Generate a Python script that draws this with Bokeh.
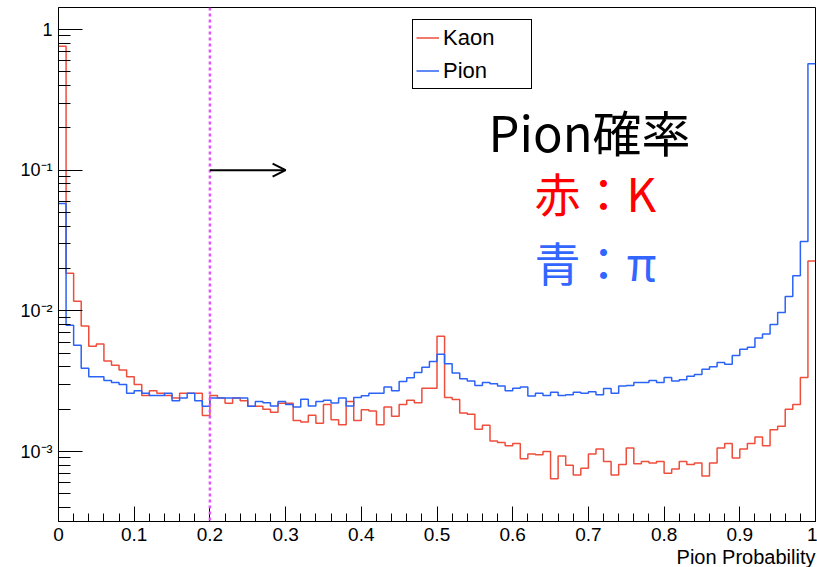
from bokeh.plotting import figure
from bokeh.models import (Range1d, FixedTicker, CustomJSTickFormatter, Span, Arrow,
                          OpenHead, Label, Legend, LegendItem, Title)
from bokeh.embed import file_html
from bokeh.resources import INLINE

# ---------------- data (100 bins from 0 to 1, normalised) ----------------
x_lo, x_hi, n_bins = 0.0, 1.0, 100

kaon = [0.76, 0.0185, 0.0117, 0.0078, 0.0056, 0.0058, 0.0044, 0.0041, 0.0038, 0.0034,
        0.0030, 0.0025, 0.0027, 0.0026, 0.0025, 0.0024, 0.0026, 0.0026, 0.0026, 0.0018,
        0.0025, 0.0024, 0.0022, 0.0024, 0.0023, 0.0021, 0.0021, 0.0020, 0.0019, 0.0022,
        0.0022, 0.00166, 0.00162, 0.00181, 0.00159, 0.00216, 0.00168, 0.00155, 0.00227, 0.00166,
        0.00198, 0.00194, 0.00155, 0.00207, 0.00178, 0.00216, 0.00231, 0.00222, 0.00282, 0.00282,
        0.00661, 0.00242, 0.00234, 0.00188, 0.00184, 0.00144, 0.00154, 0.00119, 0.00116, 0.00110,
        0.00114, 0.00089, 0.00096, 0.00095, 0.00100, 0.00064, 0.00093, 0.00080, 0.00068, 0.00076,
        0.00096, 0.00104, 0.00085, 0.00068, 0.00081, 0.00106, 0.00082, 0.00085, 0.00083, 0.00085,
        0.00070, 0.00075, 0.00085, 0.00081, 0.00083, 0.00067, 0.00083, 0.00106, 0.00114, 0.00090,
        0.00104, 0.00114, 0.00127, 0.00110, 0.00143, 0.00151, 0.00200, 0.00216, 0.00336, 0.0226]

pion = [0.058, 0.0079, 0.0057, 0.0039, 0.0034, 0.0034, 0.0032, 0.0031, 0.0030, 0.0026,
        0.0027, 0.0026, 0.0025, 0.0025, 0.0026, 0.0023, 0.0024, 0.0026, 0.0023, 0.0021,
        0.0024, 0.0024, 0.0024, 0.0024, 0.0024, 0.0021, 0.00227, 0.00222, 0.00211, 0.00227,
        0.00216, 0.00207, 0.00235, 0.00211, 0.00227, 0.00231, 0.00221, 0.00240, 0.00211, 0.00242,
        0.00249, 0.00260, 0.00260, 0.00287, 0.00270, 0.00315, 0.00334, 0.00365, 0.00398, 0.00437,
        0.00492, 0.00421, 0.00361, 0.00329, 0.00317, 0.00295, 0.00310, 0.00303, 0.00292, 0.00270,
        0.00282, 0.00287, 0.00248, 0.00260, 0.00250, 0.00264, 0.00250, 0.00253, 0.00264, 0.00260,
        0.00266, 0.00253, 0.00281, 0.00260, 0.00292, 0.00295, 0.00310, 0.00310, 0.00320, 0.00309,
        0.00336, 0.00317, 0.00324, 0.00343, 0.00353, 0.00384, 0.00401, 0.00430, 0.00418, 0.00482,
        0.00534, 0.00552, 0.00640, 0.00684, 0.00800, 0.00975, 0.01265, 0.01776, 0.0311, 0.57]

series_names = ["Kaon", "Pion"]

x_ticks = [0.0, 0.1, 0.2, 0.3, 0.4, 0.5, 0.6, 0.7, 0.8, 0.9, 1.0]
x_tick_labels = ["0", "0.1", "0.2", "0.3", "0.4", "0.5", "0.6", "0.7", "0.8", "0.9", "1"]
y_ticks = [1e-3, 1e-2, 1e-1, 1.0]
y_tick_labels = ["10\u207b\u00b3", "10\u207b\u00b2", "10\u207b\u00b9", "1"]
x_title = "Pion Probability"

cut_value = 0.2          # vertical cut line
arrow_to = 0.3           # arrow end
arrow_level = 0.1        # arrow height

y_min, y_max = 3.18e-4, 1.434

# ---------------- figure ----------------
edges = [x_lo + (x_hi - x_lo) * i / n_bins for i in range(n_bins + 1)]
kaon_step = kaon + [kaon[-1]]
pion_step = pion + [pion[-1]]

p = figure(width=817, height=567, title=None,
           x_range=Range1d(x_lo, x_hi), y_range=Range1d(y_min, y_max),
           y_axis_type="log", output_backend="svg", toolbar_location=None,
           min_border_left=58, min_border_right=2, min_border_top=7, min_border_bottom=46,
           background_fill_color="white", border_fill_color="white",
           outline_line_color="black", outline_line_width=1)

p.xgrid.visible = False
p.ygrid.visible = False

RED = "#ee4e3c"
BLUE = "#2b63f6"

r_k = p.step(edges, kaon_step, mode="after", line_color=RED, line_width=1.5)
r_p = p.step(edges, pion_step, mode="after", line_color=BLUE, line_width=1.5)

# x axis
xminor = [round(i * 0.02, 2) for i in range(51)]
p.xaxis.ticker = FixedTicker(ticks=x_ticks, minor_ticks=xminor)
p.xaxis.formatter = CustomJSTickFormatter(args=dict(vals=x_ticks, labels=x_tick_labels), code="""
    for (let i = 0; i < vals.length; i++) { if (Math.abs(vals[i] - tick) < 1e-9) return labels[i]; }
    return "";
""")
p.xaxis.major_tick_in = 15
p.xaxis.major_tick_out = 0
p.xaxis.minor_tick_in = 8
p.xaxis.minor_tick_out = 0
p.xaxis.major_label_standoff = 6
p.xaxis.major_label_text_font = "Liberation Sans"
p.xaxis.major_label_text_font_size = "19px"
p.xaxis.major_label_text_color = "black"

# x axis title, right-aligned under the axis
p.add_layout(Title(text=x_title, align="right", text_font="Liberation Sans",
                   text_font_size="20px", text_font_style="normal", text_color="black",
                   standoff=0, offset=0), "below")

# y axis
yminor = [m * 10.0 ** e for e in range(-4, 1) for m in range(2, 10)]
p.yaxis.ticker = FixedTicker(ticks=y_ticks, minor_ticks=yminor)
p.yaxis.formatter = CustomJSTickFormatter(args=dict(vals=y_ticks, labels=y_tick_labels), code="""
    const e = Math.round(Math.log10(tick));
    for (let i = 0; i < vals.length; i++) { if (Math.round(Math.log10(vals[i])) == e) return labels[i]; }
    return "";
""")
p.yaxis.major_tick_in = 24
p.yaxis.major_tick_out = 0
p.yaxis.minor_tick_in = 12
p.yaxis.minor_tick_out = 0
p.yaxis.major_label_standoff = 6
p.yaxis.major_label_text_font = "Liberation Sans"
p.yaxis.major_label_text_font_size = "18px"
p.yaxis.major_label_text_color = "black"

for ax in (p.xaxis, p.yaxis):
    ax.axis_line_color = "black"
    ax.major_tick_line_color = "black"
    ax.minor_tick_line_color = "black"

# cut line + arrow
p.add_layout(Span(location=cut_value, dimension="height", line_color="#e055f7",
                  line_dash="3 3", line_width=2.5))
p.add_layout(Arrow(x_start=cut_value, y_start=arrow_level, x_end=arrow_to, y_end=arrow_level,
                   line_color="black", line_width=2,
                   end=OpenHead(size=13, line_width=2, line_color="black")))

# legend
legend = Legend(items=[LegendItem(label=series_names[0], renderers=[r_k]),
                       LegendItem(label=series_names[1], renderers=[r_p])],
                location=(354, 432), orientation="vertical",
                border_line_color="black", border_line_width=1, border_line_alpha=1,
                background_fill_color="white", background_fill_alpha=1,
                padding=3, spacing=4, margin=0,
                glyph_width=23, glyph_height=29, label_height=29, label_width=85,
                label_standoff=4, label_text_font="Liberation Sans",
                label_text_font_size="22px", label_text_color="black")
p.add_layout(legend)

# annotations in Japanese
p.add_layout(Label(x=430, y=391, x_units="screen", y_units="screen", text="Pion確率",
                   text_font="Noto Sans CJK JP", text_font_size="49px",
                   text_baseline="middle", text_color="black"))
p.add_layout(Label(x=476, y=330, x_units="screen", y_units="screen", text="赤：K",
                   text_font="Noto Sans CJK JP", text_font_size="46px",
                   text_baseline="middle", text_color="#ff0000"))
p.add_layout(Label(x=476, y=261, x_units="screen", y_units="screen", text="青：π",
                   text_font="Noto Sans CJK JP", text_font_size="46px",
                   text_baseline="middle", text_color="#3366ff"))

open("out.html", "w").write(file_html(p, INLINE))
